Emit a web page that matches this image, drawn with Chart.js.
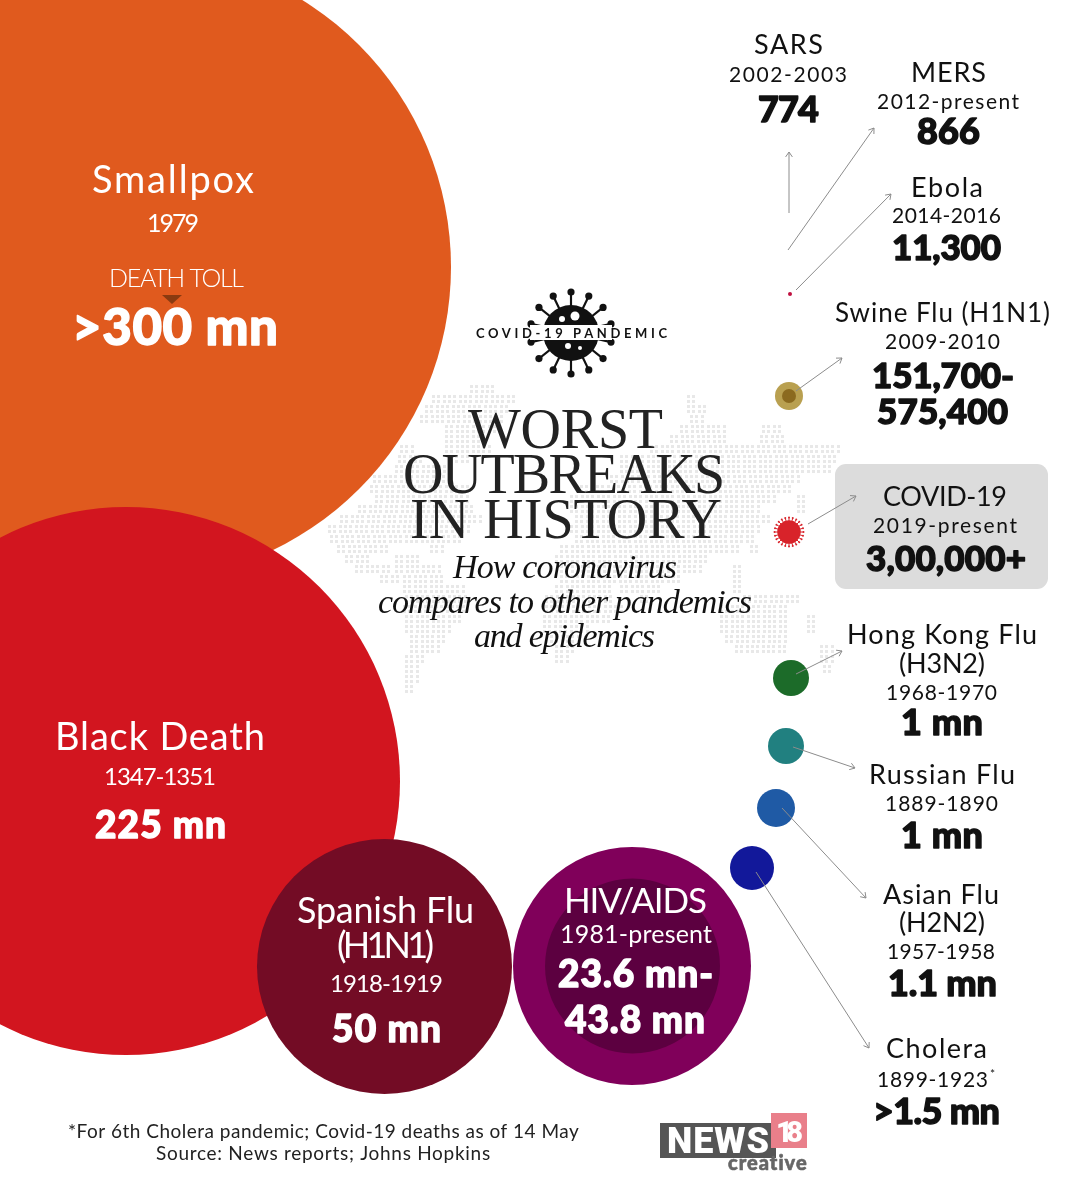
<!DOCTYPE html>
<html>
<head>
<meta charset="utf-8">
<title>Worst outbreaks in history</title>
<script src="https://cdn.jsdelivr.net/npm/chart.js@4/dist/chart.umd.min.js"></script>
<style>
    html, body { margin: 0; padding: 0; background: #fff; }
    canvas { display: block; }
</style>
</head>
<body>
<canvas id="outbreak-chart" width="1083" height="1200"></canvas>
<script>
const diseases = ['Smallpox', 'Black Death', 'Spanish Flu\n(H1N1)', 'HIV/AIDS', 'Swine Flu (H1N1)', 'Ebola', 'SARS', 'MERS', 'COVID-19', 'Hong Kong Flu\n(H3N2)', 'Russian Flu', 'Asian Flu\n(H2N2)', 'Cholera']
const periods = ['1979', '1347-1351', '1918-1919', '1981-present', '2009-2010', '2014-2016', '2002-2003', '2012-present', '2019-present', '1968-1970', '1889-1890', '1957-1958', '1899-1923']
const tolls = ['>300 mn', '225 mn', '50 mn', '23.6 mn-\n43.8 mn', '151,700-\n575,400', '11,300', '774', '866', '3,00,000+', '1 mn', '1 mn', '1.1 mn', '>1.5 mn']

// bubbles, same order as diseases
const bubbleX = [137, 126, 384.5, 632, 789, 790, 789, 788, 789, 791, 786, 776, 752]
const bubbleY = [267, 781, 966.5, 966, 396, 294, 213, 250, 532, 678, 746, 808, 868]
const bubbleR = [314, 274, 127.5, 119, 14, 2, 0, 0, 11.5, 18, 18, 19, 22]
const bubbleColors = ['#e05a1e', '#d2151f', '#730c25', '#80005a', '#b9a050', '#c01040', '#888888', '#888888', '#d8232a', '#1c6b29', '#218080', '#1f5aa5', '#12189a']

const innerX = [632.5, 789]
const innerY = [966, 396]
const innerR = [87.5, 7]
const innerColors = ['#5c0040', '#8b6a1f']

const arrows = [
    [789, 213, 789, 152],
    [788, 250, 874, 128],
    [796, 290, 891, 194],
    [796, 391, 842, 358],
    [808, 524, 856, 496],
    [796, 674, 842, 651],
    [793, 747, 855, 768],
    [782, 808, 866, 898],
    [756, 872, 869, 1048]
]

// one entry per disease: sizes of name/period/toll, colour, then [left, right, baseline] per text line
const labelLayout = [
    [38, 25, 51, '#fff', [[92, 254, 193], [147, 199, 232], [72, 278, 345]]],
    [38, 24, 37, '#fff', [[55, 265, 750], [104, 216, 785], [95, 226, 838]]],
    [36, 24, 37, '#fff', [[297, 474, 923], [337, 434, 958], [330, 443, 992], [332, 441, 1042]]],
    [35, 25, 37, '#fff', [[564, 707, 913], [560, 712, 943], [558, 713, 987], [565, 705, 1033]]],
    [26, 21, 35, '#111', [[835, 1050, 322], [885, 1000, 349], [872, 1014, 388], [877, 1008, 424]]],
    [27, 21, 35, '#111', [[911, 983, 197], [892, 1001, 223], [892, 1001, 260]]],
    [27, 21, 36, '#111', [[754, 823, 54], [729, 847, 82], [758, 819, 122]]],
    [27, 21, 36, '#111', [[911, 986, 82], [877, 1019, 109], [917, 980, 144]]],
    [27, 21, 35, '#111', [[883, 1007, 506], [873, 1017, 533], [866, 1026, 571]]],
    [27, 21, 36, '#111', [[847, 1037, 644], [899, 985, 673], [886, 997, 700], [901, 983, 735]]],
    [27, 21, 36, '#111', [[869, 1015, 784], [885, 998, 811], [901, 983, 848]]],
    [27, 21, 36, '#111', [[883, 999, 904], [899, 985, 932], [887, 995, 959], [888, 997, 996]]],
    [27, 21, 36, '#111', [[886, 987, 1058], [877, 988, 1087], [873, 1000, 1124]]]
]

// spans of the dotted world map behind the title: [y, x0, x1, x0, x1 ...]
const mapRows = [
    [385, 470, 493], [395, 432, 517, 687, 695], [405, 425, 510, 687, 703], [415, 420, 500, 690, 705],
    [425, 445, 495, 680, 723, 762, 783], [435, 445, 480, 670, 725, 760, 785], [445, 400, 413, 445, 490, 650, 837],
    [455, 398, 420, 450, 470, 620, 835], [465, 395, 445, 620, 830], [475, 373, 445, 610, 800],
    [485, 370, 470, 580, 790], [495, 375, 470, 570, 775, 797, 803], [505, 358, 475, 570, 760, 797, 803],
    [515, 340, 480, 575, 770], [525, 328, 470, 570, 760], [535, 330, 460, 575, 755],
    [545, 337, 390, 430, 445, 560, 740, 750, 760], [555, 345, 368, 395, 420, 555, 705], [565, 355, 390, 395, 440, 560, 700, 733, 743],
    [575, 380, 400, 403, 445, 560, 680, 733, 743], [585, 403, 465, 555, 610, 620, 660, 733, 743], [595, 405, 467, 545, 610, 640, 650, 743, 797],
    [605, 403, 465, 545, 620, 720, 787], [615, 405, 460, 543, 610, 720, 787, 807, 813], [625, 405, 450, 543, 590, 720, 787, 807, 813],
    [635, 410, 445, 550, 580, 725, 787], [645, 410, 440, 555, 575, 735, 785, 820, 833], [655, 405, 425, 555, 570, 820, 833],
    [665, 405, 420, 823, 833], [675, 405, 418], [685, 405, 415]
]

function drawFitted(ctx, str, x0, x1, baseline, font, color, thicken) {
    ctx.font = font
    ctx.fillStyle = color
    ctx.letterSpacing = '0px'
    const spare = (x1 - x0) - ctx.measureText(str).width
    ctx.letterSpacing = (spare / Math.max(str.length - 1, 1)).toFixed(2) + 'px'
    ctx.textAlign = 'left'
    ctx.textBaseline = 'alphabetic'
    ctx.fillText(str, x0, baseline)
    if (thicken) {
        // Lato Black is lighter than the face in the picture
        ctx.strokeStyle = color
        ctx.lineWidth = thicken
        ctx.lineJoin = 'round'
        ctx.strokeText(str, x0, baseline)
    }
    ctx.letterSpacing = '0px'
}

function drawVirus(ctx, cx, cy, body, reach, knob, spikes, color) {
    ctx.fillStyle = color
    ctx.strokeStyle = color
    ctx.lineWidth = Math.max(knob * 0.6, 1)
    for (let i = 0; i < spikes; i++) {
        const a = i / spikes * Math.PI * 2 + Math.PI / 2
        const ex = cx + Math.cos(a) * reach
        const ey = cy + Math.sin(a) * reach
        ctx.beginPath()
        ctx.moveTo(cx, cy)
        ctx.lineTo(ex, ey)
        ctx.stroke()
        ctx.beginPath()
        ctx.arc(ex, ey, knob, 0, Math.PI * 2)
        ctx.fill()
    }
    ctx.beginPath()
    ctx.arc(cx, cy, body, 0, Math.PI * 2)
    ctx.fill()
}

function dot(ctx, x, y, r) {
    ctx.beginPath()
    ctx.arc(x, y, r, 0, Math.PI * 2)
    ctx.fill()
}

const backdropPlugin = {
    id: 'backdrop',
    beforeDatasetsDraw(chart) {
        const ctx = chart.ctx
        ctx.save()
        // world map
        ctx.fillStyle = '#e8e8e8'
        mapRows.forEach(row => {
            for (let i = 1; i < row.length; i += 2) {
                for (let x = row[i]; x <= row[i + 1]; x += 5.33) {
                    ctx.fillRect(Math.round(x), row[0], 3, 3)
                    ctx.fillRect(Math.round(x), row[0] + 5, 3, 3)
                }
            }
        })
        // highlight box for COVID-19
        ctx.fillStyle = '#dcdcdc'
        ctx.beginPath()
        ctx.roundRect(835, 464, 213, 125, 11)
        ctx.fill()
        ctx.restore()
    }
}

const textPlugin = {
    id: 'overlayText',
    afterDatasetsDraw(chart) {
        const ctx = chart.ctx
        const { x, y } = chart.scales
        ctx.save()

        // spiky covid marker on its bubble
        drawVirus(ctx, x.getPixelForValue(bubbleX[8]), y.getPixelForValue(bubbleY[8]), bubbleR[8], 14.5, 1, 24, bubbleColors[8])

        // arrows
        ctx.strokeStyle = '#8c8c8c'
        ctx.lineWidth = 1
        arrows.forEach(a => {
            const x0 = x.getPixelForValue(a[0])
            const y0 = y.getPixelForValue(a[1])
            const x1 = x.getPixelForValue(a[2])
            const y1 = y.getPixelForValue(a[3])
            const angle = Math.atan2(y1 - y0, x1 - x0)
            ctx.beginPath()
            ctx.moveTo(x0, y0)
            ctx.lineTo(x1, y1)
            ctx.moveTo(x1 - 6 * Math.cos(angle - 0.6), y1 - 6 * Math.sin(angle - 0.6))
            ctx.lineTo(x1, y1)
            ctx.lineTo(x1 - 6 * Math.cos(angle + 0.6), y1 - 6 * Math.sin(angle + 0.6))
            ctx.stroke()
        })

        // labels
        labelLayout.forEach((layout, i) => {
            const [nameSize, periodSize, tollSize, color, spots] = layout
            const names = diseases[i].split('\n')
            const tollLines = tolls[i].split('\n')
            const lines = names.concat([periods[i]], tollLines)
            lines.forEach((line, k) => {
                let font = '400 ' + periodSize + 'px Lato'
                let thicken = 0
                if (k < names.length) font = '400 ' + nameSize + 'px Lato'
                if (k > names.length) {
                    font = '900 ' + tollSize + 'px Lato'
                    thicken = 1.4
                }
                drawFitted(ctx, line, spots[k][0], spots[k][1], spots[k][2], font, color, thicken)
            })
        })
        drawFitted(ctx, '*', 990, 995, 1078, '400 12px Lato', '#111')

        // smallpox extras
        drawFitted(ctx, 'DEATH TOLL', 109, 244, 287, '300 25px Lato', '#fff')
        ctx.fillStyle = '#8a3a10'
        ctx.beginPath()
        ctx.moveTo(162, 295)
        ctx.lineTo(182, 295)
        ctx.lineTo(172, 304)
        ctx.closePath()
        ctx.fill()

        // covid icon with band
        drawVirus(ctx, 571, 333, 28, 41, 3.6, 14, '#111')
        ctx.fillStyle = '#fff'
        dot(ctx, 562, 319, 3)
        dot(ctx, 575, 316, 4.5)
        dot(ctx, 568, 346, 3)
        dot(ctx, 580, 348, 2)
        ctx.fillRect(530, 325, 82, 15)
        drawFitted(ctx, 'COVID-19 PANDEMIC', 476, 667, 338, '700 13px Lato', '#111')

        // title
        const titleFont = '400 56px "Liberation Serif"'
        drawFitted(ctx, 'WORST', 468, 663, 448, titleFont, '#222')
        drawFitted(ctx, 'OUTBREAKS', 403, 725, 493, titleFont, '#222')
        drawFitted(ctx, 'IN HISTORY', 410, 722, 538, titleFont, '#222')
        const subFont = 'italic 400 34px "Liberation Serif"'
        drawFitted(ctx, 'How coronavirus', 453, 677, 578, subFont, '#111')
        drawFitted(ctx, 'compares to other pandemics', 378, 752, 613, subFont, '#111')
        drawFitted(ctx, 'and epidemics', 474, 655, 647, subFont, '#111')

        // footer
        drawFitted(ctx, '*For 6th Cholera pandemic; Covid-19 deaths as of 14 May', 68, 579, 1138, '400 19px Lato', '#222')
        drawFitted(ctx, 'Source: News reports; Johns Hopkins', 156, 490, 1160, '400 19px Lato', '#222')

        // logo
        ctx.fillStyle = '#555'
        ctx.fillRect(660, 1123, 116, 35)
        ctx.fillStyle = '#e97f8a'
        ctx.fillRect(771, 1113, 36, 35)
        drawFitted(ctx, 'NEWS', 667, 769, 1153, '900 36px Roboto', '#fff')
        drawFitted(ctx, '18', 776, 803, 1142, '900 29px Roboto', '#fff')
        drawFitted(ctx, 'creative', 728, 807, 1170, '900 20px Lato', '#666', 0.6)
        ctx.restore()
    }
}

function main() {
    const chartCanvas = document.querySelector('#outbreak-chart')

    new Chart(chartCanvas.getContext('2d'), {
        type: 'bubble',
        data: {
            labels: diseases,
            datasets: [
                {
                    label: 'Inner range',
                    data: innerX.map((value, i) => ({ x: value, y: innerY[i], r: innerR[i] })),
                    backgroundColor: innerColors,
                    borderWidth: 0,
                    order: 1
                },
                {
                    label: 'Deaths',
                    data: bubbleX.map((value, i) => ({ x: value, y: bubbleY[i], r: bubbleR[i] })),
                    backgroundColor: bubbleColors,
                    borderWidth: 0,
                    order: 2
                }
            ]
        },
        options: {
            responsive: false,
            animation: false,
            clip: false,
            // the bubble controller would otherwise shrink the area by the biggest radius
            layout: { padding: 0, autoPadding: false },
            plugins: { legend: { display: false }, tooltip: { enabled: false } },
            scales: {
                x: { type: 'linear', min: 0, max: 1083, display: false },
                y: { type: 'linear', min: 0, max: 1200, reverse: true, display: false }
            }
        },
        plugins: [backdropPlugin, textPlugin]
    })
}

main()
</script>
</body>
</html>
